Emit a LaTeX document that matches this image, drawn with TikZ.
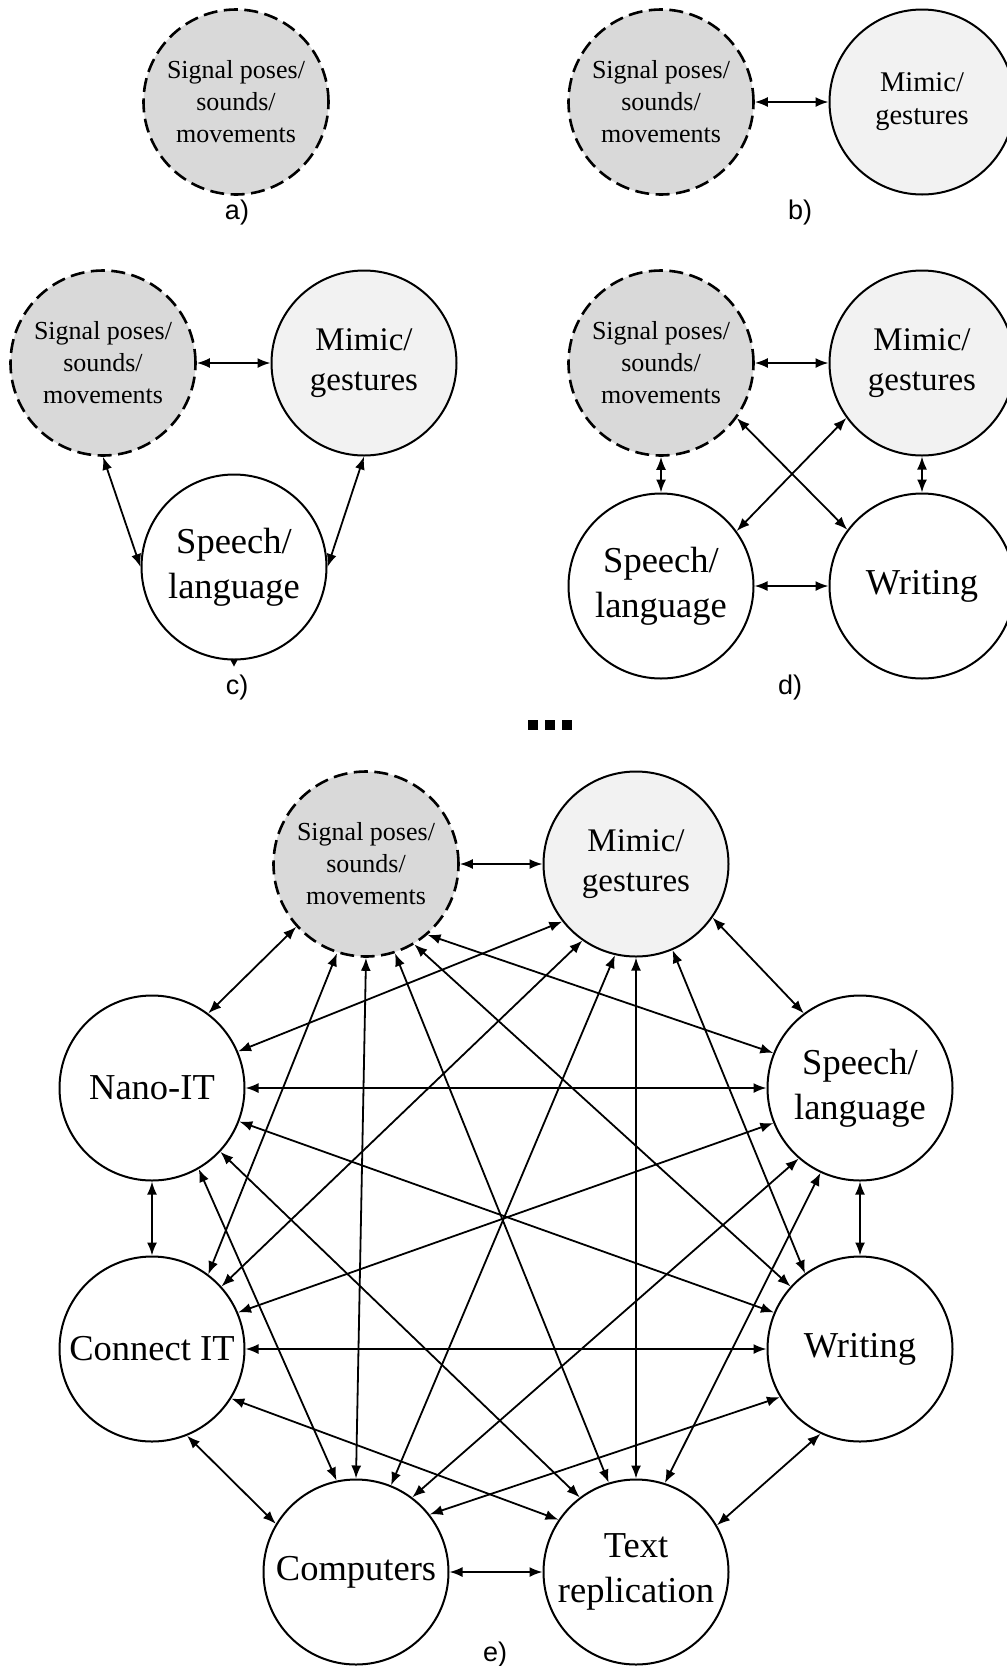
\documentclass[tikz,border=0pt]{standalone}
\usepackage{fontspec}
\setmainfont{Liberation Serif}
\newfontfamily\labfont{Liberation Sans}
\usetikzlibrary{arrows.meta}
\definecolor{sigfill}{HTML}{D9D9D9}
\definecolor{mimfill}{HTML}{F2F2F2}
\tikzset{
  sigbox/.style={circle, draw=black, fill=sigfill, minimum size=185pt, inner sep=0pt,
    line width=2.6pt, dash pattern=on 14pt off 6.5pt, align=center,
    font=\fontsize{26pt}{32pt}\selectfont},
  mimbox/.style={circle, draw=black, fill=mimfill, minimum size=185pt, inner sep=0pt,
    line width=2pt, align=center, font=\fontsize{33pt}{40pt}\selectfont},
  mimsmall/.style={mimbox, font=\fontsize{28.5pt}{33pt}\selectfont},
  bigbox/.style={circle, draw=black, fill=white, minimum size=185pt, inner sep=0pt,
    line width=2pt, align=center, font=\fontsize{36.5pt}{45pt}\selectfont},
  lab/.style={inner sep=0pt, font=\labfont\fontsize{27pt}{30pt}\selectfont},
  arr/.style={line width=1.8pt, {Latex[length=13pt,width=10pt]}-{Latex[length=13pt,width=10pt]}},
  dotsq/.style={fill=black}
}
\begin{document}
\begin{tikzpicture}[x=1pt,y=-1pt]
\useasboundingbox (0,0) rectangle (1007,1666);
\clip (0,0) rectangle (1007,1666);
% a)
\node[sigbox] (sigA) at (236,102) {Signal poses/\\sounds/\\movements};
\node[lab] (labA) at (237,213) {a)};
% b)
\node[sigbox] (sigB) at (661,102) {Signal poses/\\sounds/\\movements};
\node[mimsmall] (mimB) at (922,102) {Mimic/\\gestures};
\node[lab] (labB) at (800,213) {b)};
\draw[arr] (sigB.east) -- (mimB.west);
% c)
\node[sigbox] (sigC) at (103,363) {Signal poses/\\sounds/\\movements};
\node[mimbox] (mimC) at (364,363) {Mimic/\\gestures};
\node[bigbox] (spC) at (234,567) {Speech/\\language};
\node[lab] (labC) at (237,688) {c)};
\draw[arr] (sigC.east) -- (mimC.west);
\draw[arr] (sigC.south) -- (spC.west);
\draw[arr] (mimC.south) -- (spC.east);
\fill (230.5,660) -- (237.5,660) -- (234,666.5) -- cycle;
% d)
\node[sigbox] (sigD) at (661,363) {Signal poses/\\sounds/\\movements};
\node[mimbox] (mimD) at (922,363) {Mimic/\\gestures};
\node[bigbox] (spD) at (661,586) {Speech/\\language};
\node[bigbox] (wrD) at (922,586) {Writing};
\node[lab] (labD) at (790,688) {d)};
\draw[arr] (sigD.east) -- (mimD.west);
\draw[arr] (sigD.south) -- (spD.north);
\draw[arr] (mimD.south) -- (wrD.north);
\draw[arr] (spD.east) -- (wrD.west);
\draw[arr] (sigD.-36) -- (wrD.143);
\draw[arr] (mimD.-144) -- (spD.36);
% dots
\fill[dotsq] (528,720) rectangle (537.5,729.5);
\fill[dotsq] (545,720) rectangle (554.5,729.5);
\fill[dotsq] (562,720) rectangle (571.5,729.5);
% e)
\node[sigbox] (S) at (366,864) {Signal poses/\\sounds/\\movements};
\node[mimbox] (M) at (636,864) {Mimic/\\gestures};
\node[bigbox] (N) at (152,1088) {Nano-IT};
\node[bigbox] (SP) at (860,1088) {Speech/\\language};
\node[bigbox] (CI) at (152,1349) {Connect IT};
\node[bigbox] (W) at (860,1349) {Writing};
\node[bigbox] (C) at (356,1572) {Computers};
\node[bigbox] (TR) at (636,1572) {Text\\replication};
\node[lab] (labE) at (495,1654) {e)};
\draw[arr] (S.east) -- (M.west);
\draw[arr] (S.-138) -- (N.53);
\draw[arr] (S.-108) -- (CI.53);
\draw[arr] (S.-90) -- (C.90);
\draw[arr] (S.-72) -- (TR.107);
\draw[arr] (S.-59) -- (W.138);
\draw[arr] (S.-49) -- (SP.158);
\draw[arr] (M.-142) -- (N.23);
\draw[arr] (M.-125) -- (CI.42);
\draw[arr] (M.-103) -- (C.68);
\draw[arr] (M.-90) -- (TR.90);
\draw[arr] (M.-67) -- (W.126);
\draw[arr] (M.-35) -- (SP.127);
\draw[arr] (N.east) -- (SP.west);
\draw[arr] (N.-21) -- (W.157);
\draw[arr] (N.-43) -- (TR.127);
\draw[arr] (N.-60) -- (C.102);
\draw[arr] (N.south) -- (CI.north);
\draw[arr] (CI.23) -- (SP.202);
\draw[arr] (CI.east) -- (W.west);
\draw[arr] (CI.-32) -- (TR.146);
\draw[arr] (CI.-68) -- (C.149);
\draw[arr] (SP.-131) -- (C.53);
\draw[arr] (SP.-115) -- (TR.72);
\draw[arr] (SP.south) -- (W.north);
\draw[arr] (W.-149) -- (C.38);
\draw[arr] (W.-115) -- (TR.30);
\draw[arr] (C.east) -- (TR.west);
\end{tikzpicture}
\end{document}
